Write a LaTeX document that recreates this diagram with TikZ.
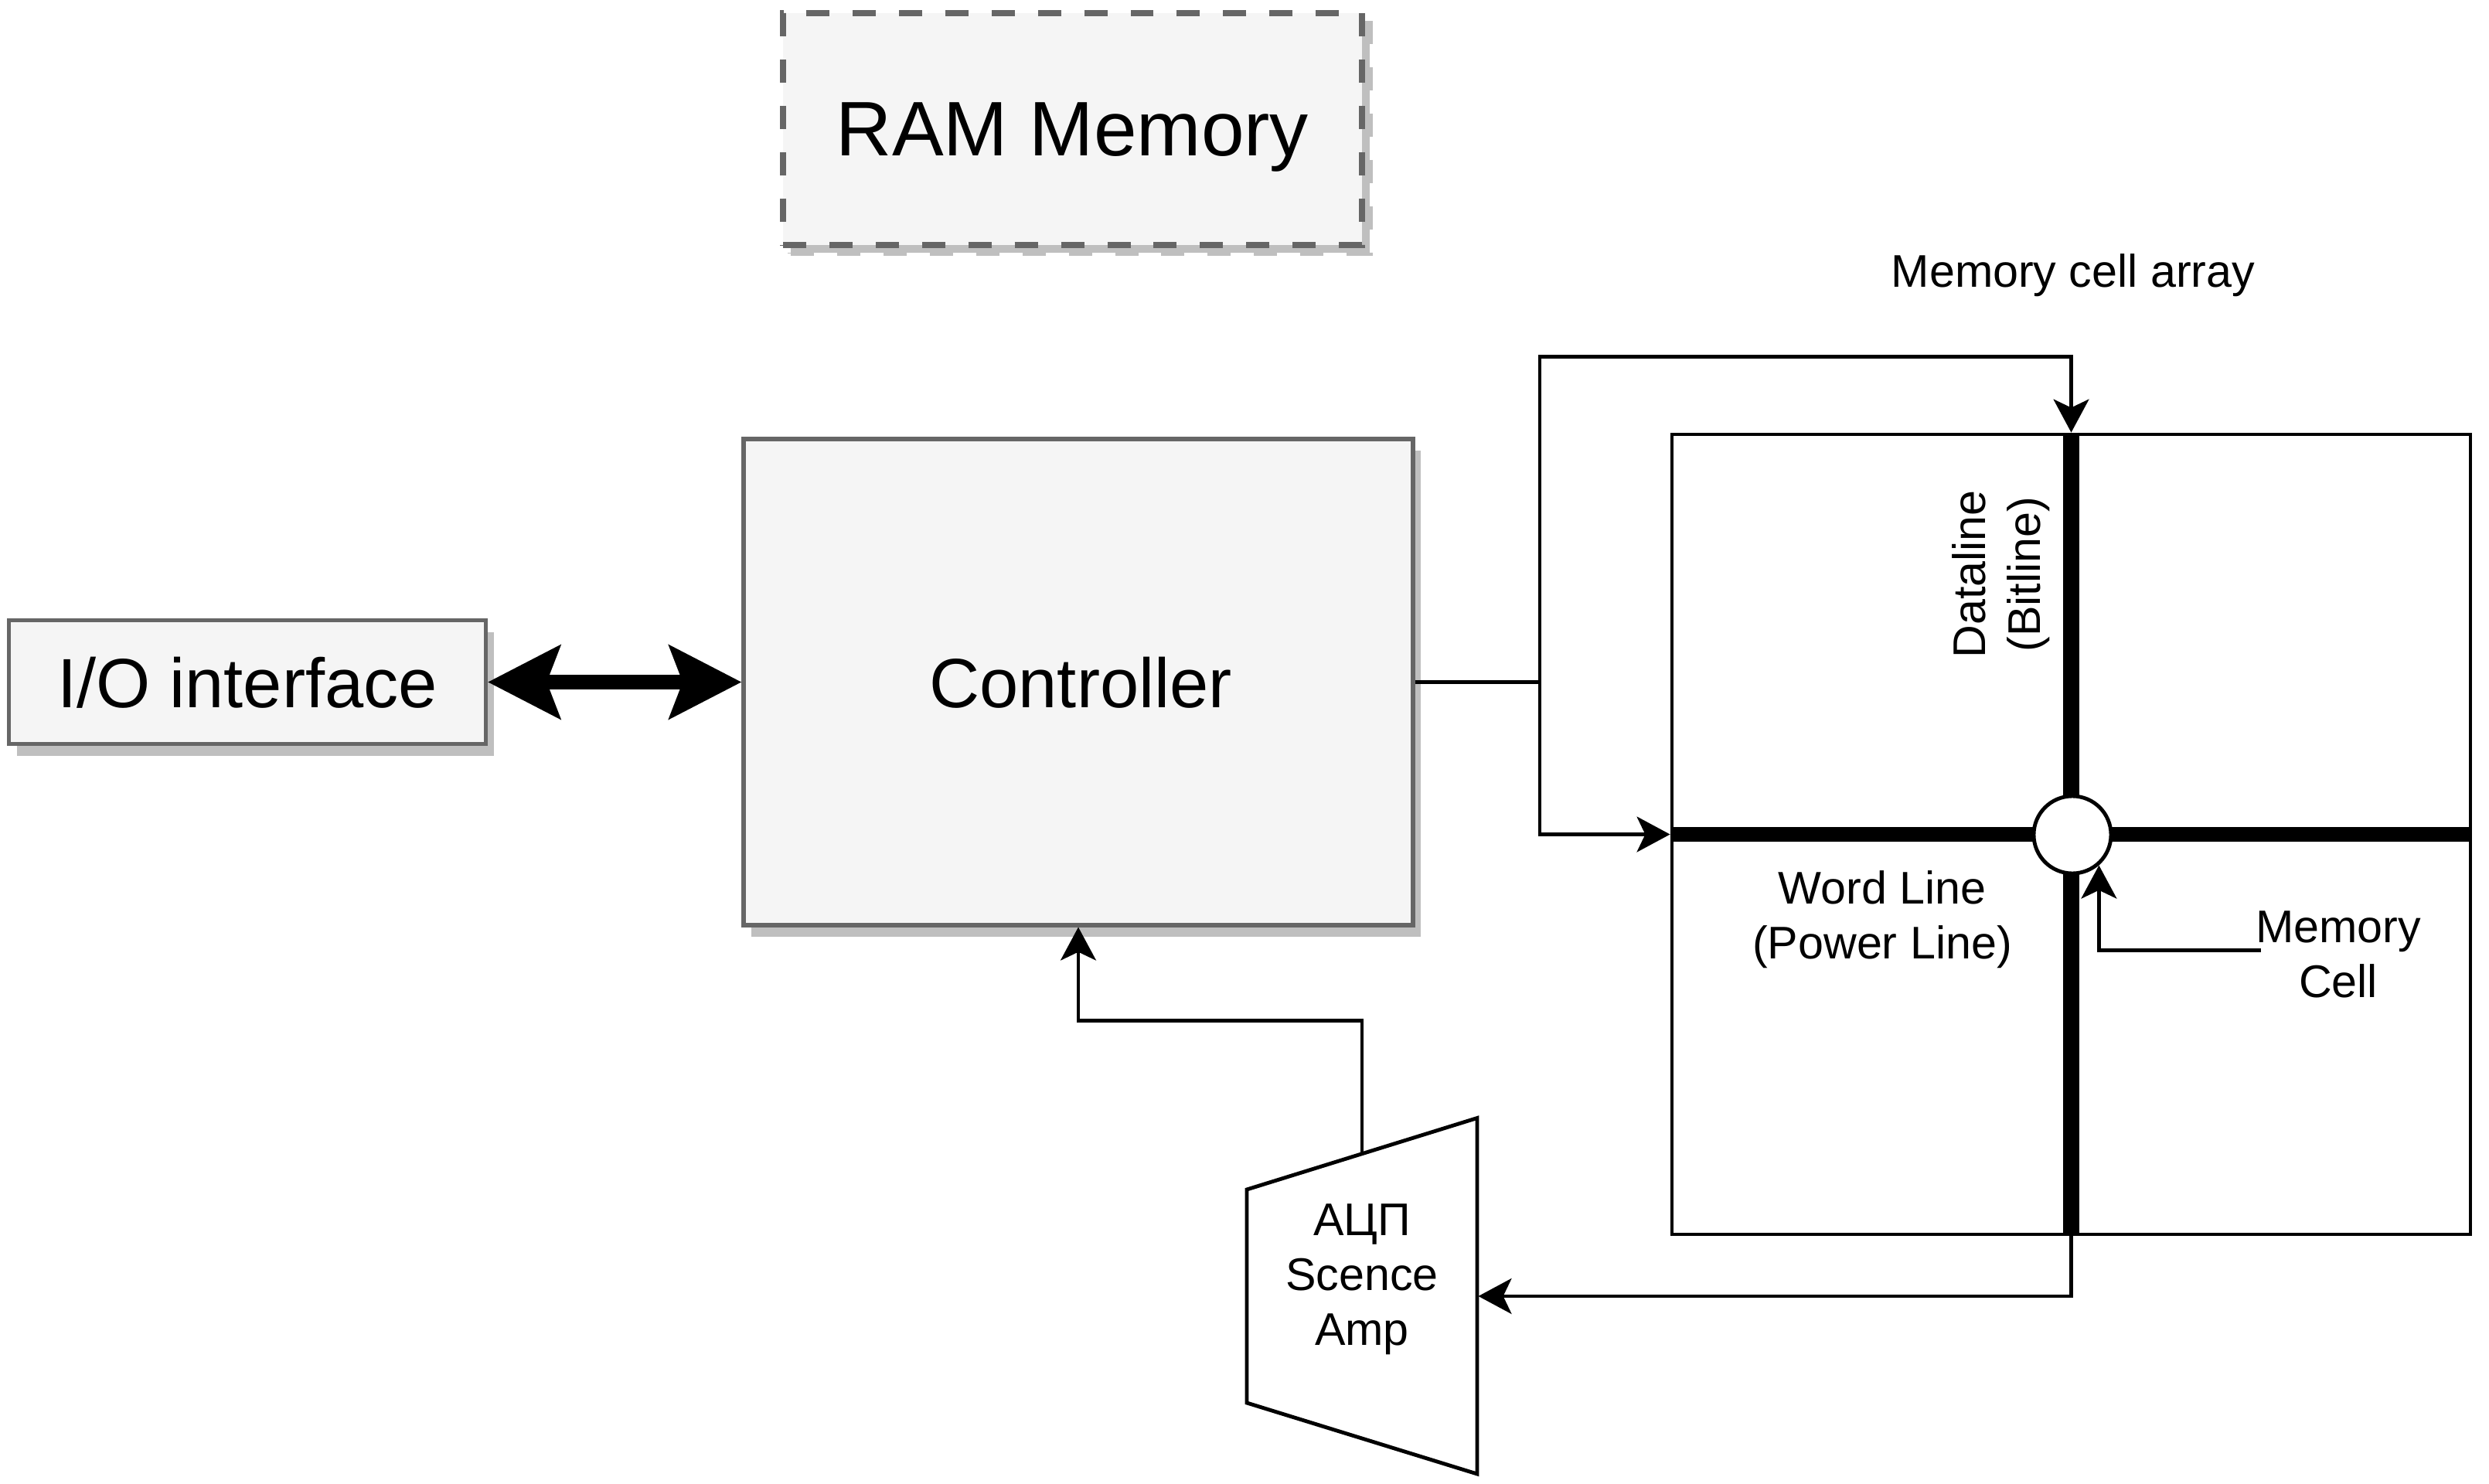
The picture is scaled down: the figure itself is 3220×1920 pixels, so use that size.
\documentclass[tikz,border=0pt]{standalone}
\usepackage{fontspec}
\setmainfont{Liberation Sans}
\usetikzlibrary{arrows.meta,shadows,calc}
\newlength\pxu
\setlength\pxu{0.009739cm}
\definecolor{grayline}{HTML}{666666}
\definecolor{grayfill}{HTML}{F5F5F5}
\begin{document}
\begin{tikzpicture}[x=0.009739cm, y=-0.009739cm,
  arr/.style={line width=1.25pt, -{Stealth[length=11.9pt,width=12.7pt,inset=3pt]}},
  bigarr/.style={line width=5.5pt, {Stealth[length=25.8pt,width=26pt,inset=4.7pt]}-{Stealth[length=25.8pt,width=26pt,inset=4.7pt]}},
  graybox/.style={draw=grayline, fill=grayfill, line width=1.4pt,
    drop shadow={shadow xshift=10\pxu, shadow yshift=-15\pxu, fill=black!25, opacity=1},
    font=\fontsize{25}{30}\selectfont, text depth=0pt, inner sep=0pt},
  rambox/.style={draw=grayline, fill=grayfill, line width=2.2pt, dash pattern=on 8.3pt off 8.3pt,
    preaction={draw=black!25, fill=black!25, line width=2.2pt, dash pattern=on 8.3pt off 8.3pt,
      transform canvas={xshift=10\pxu, yshift=-10\pxu}},
    font=\fontsize{27.7}{33}\selectfont, text depth=0pt, inner sep=0pt},
  smalltxt/.style={font=\fontsize{16.4}{19.7}\selectfont, align=center, inner sep=0pt},
  plain/.style={draw, line width=1.35pt, fill=white, inner sep=0pt},
]
\useasboundingbox (0,0) rectangle (3220,1920);

% boxes
\node[rambox, minimum width=749\pxu, minimum height=300\pxu] (ram) at (1387.5,167) {RAM Memory};
\node[graybox, minimum width=617\pxu, minimum height=160\pxu] (io) at (320,882.5) {I/O interface};
\node[graybox, minimum width=866\pxu, minimum height=629\pxu] (ctrl) at (1395,882.5) {\hspace*{6\pxu}Controller};

% memory cell array
\node[plain, minimum width=1033\pxu, minimum height=1035\pxu] (array) at (2679.5,1079.5) {};
\draw[line width=5.5pt] (array.west) -- (array.east);
\draw[line width=5.8pt] (array.north) -- (array.south);
\node[plain, circle, minimum size=100\pxu] (cell) at (2681,1080) {};

% labels
\node[smalltxt] (arraylbl) at (2682,356) {Memory cell array};
\node[smalltxt, rotate=90] (bitlbl) at (2589,743) {Dataline\\(Bitline)};
\node[smalltxt] (wordlbl) at (2435,1190) {Word Line\\(Power Line)};
\node[smalltxt] (celllbl) at (3025,1235) {Memory\\Cell};

% sense amplifier
\draw[line width=1.35pt, fill=white] (1613,1539) -- (1911,1446.5) -- (1911,1907) -- (1613,1815) -- cycle;
\node[smalltxt] (amp) at (1762,1655) {АЦП\\Scence\\Amp};
\coordinate (amptop) at (1762,1492.75);
\coordinate (ampin) at (1912.5,1677);

% connectors
\draw[bigarr] (io.east) -- (ctrl.west);
\coordinate (split) at (1992,882.5);
\coordinate (topbend) at ($(array.north)+(0,-98)$);
\draw[arr] (ctrl.east) -- (split) |- (topbend) -- (array.north);
\draw[arr] (split) |- (array.west);
\draw[arr] (array.south) |- (ampin);
\coordinate (ctrlbend) at ($(ctrl.south)+(0,121)$);
\draw[arr] (amptop) |- (ctrlbend) -- (ctrl.south);
\coordinate (cellfrom) at (2925,1229.5);
\draw[arr] (cellfrom) -| (cell.-49);
\end{tikzpicture}
\end{document}
